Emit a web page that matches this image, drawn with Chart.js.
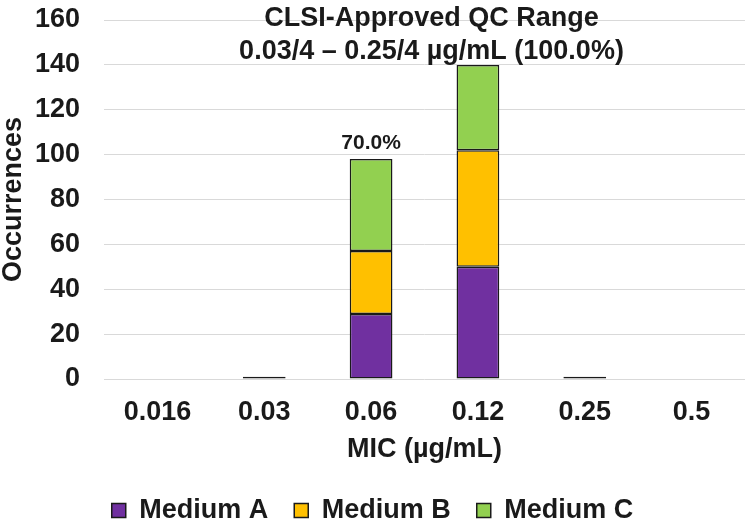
<!DOCTYPE html>
<html>
<head>
<meta charset="utf-8">
<script src="https://cdn.jsdelivr.net/npm/chart.js@4.4.1/dist/chart.umd.min.js"></script>
<style>
    html, body { margin: 0; padding: 0; background: #ffffff; }
    #wrap { width: 750px; height: 520px; }
</style>
</head>
<body>
<div id="wrap"><canvas id="micChart"></canvas></div>
<script>
// Data
const mics = ["0.016", "0.03", "0.06", "0.12", "0.25", "0.5"];
const mediumA = [0, 1, 29, 50, 1, 0];
const mediumB = [0, 0, 28, 52, 0, 0];
const mediumC = [0, 0, 41, 38, 0, 0];
const pctLabels = ["", "", "70.0%", "", "", ""];
const rangeTitle = ["CLSI-Approved QC Range", "0.03/4 \u2013 0.25/4 \u00b5g/mL (100.0%)"];

const FONT = "'Liberation Sans', Arial, sans-serif";
const TEXT = "#1a1a1a";

// Text drawn over the plot: QC range title and % label
const annotations = {
    id: "annotations",
    beforeInit(chart) {
        // keep the legend wide apart but not tall
        const fit = chart.legend.fit;
        chart.legend.fit = function () {
            fit.call(this);
            this.height = 49;
        };
    },
    afterDatasetsDraw(chart) {
        const ctx = chart.ctx;
        const x = chart.scales.x;
        const y = chart.scales.y;
        const area = chart.chartArea;
        ctx.save();
        ctx.fillStyle = TEXT;
        ctx.textAlign = "center";
        ctx.textBaseline = "middle";
        ctx.font = "bold 27px " + FONT;
        const cx = (area.left + area.right) / 2 + 7;
        ctx.fillText(rangeTitle[0], cx, y.getPixelForValue(160) - 1);
        ctx.fillText(rangeTitle[1], cx, y.getPixelForValue(146));
        ctx.font = "bold 21px " + FONT;
        pctLabels.forEach((lbl, i) => {
            if (!lbl) return;
            const total = mediumA[i] + mediumB[i] + mediumC[i];
            ctx.fillText(lbl, x.getPixelForValue(i), y.getPixelForValue(total) - 16);
        });
        ctx.restore();
    },
};

const barStyle = {
    borderColor: "#1a1a1a",
    borderWidth: 1.5,
    borderSkipped: false,
    barPercentage: 0.4,
    categoryPercentage: 1.0,
};

const ctx = document.getElementById("micChart").getContext("2d");
const micChart = new Chart(ctx, {
    type: "bar",
    data: {
        labels: mics,
        datasets: [
            { label: "Medium A", data: mediumA, backgroundColor: "#7030A0", ...barStyle },
            { label: "Medium B", data: mediumB, backgroundColor: "#FFC000", ...barStyle },
            { label: "Medium C", data: mediumC, backgroundColor: "#92D050", ...barStyle },
        ],
    },
    options: {
        responsive: true,
        maintainAspectRatio: false,
        animation: false,
        layout: {
            padding: { left: 0, right: 5, top: 20, bottom: 0 },
        },
        plugins: {
            legend: {
                position: "bottom",
                labels: {
                    color: TEXT,
                    font: { family: FONT, size: 27, weight: "bold" },
                    boxWidth: 14,
                    boxHeight: 14,
                    padding: 26,
                },
            },
            tooltip: { enabled: false },
        },
        scales: {
            x: {
                stacked: true,
                grid: { display: false, drawTicks: false },
                border: { display: false },
                ticks: {
                    color: TEXT,
                    font: { family: FONT, size: 27, weight: "bold" },
                    padding: 17,
                },
                title: {
                    display: true,
                    text: "MIC (\u00b5g/mL)",
                    color: TEXT,
                    font: { family: FONT, size: 27, weight: "bold" },
                    padding: { top: 0, bottom: 5 },
                },
                afterFit: (scale) => {
                    scale.height = 92;
                },
            },
            y: {
                stacked: true,
                min: 0,
                max: 160,
                grid: { color: "#d9d9d9", lineWidth: 1, drawTicks: false },
                border: { display: false },
                ticks: {
                    stepSize: 20,
                    color: TEXT,
                    font: { family: FONT, size: 27, weight: "bold" },
                    padding: 24,
                },
                title: {
                    display: true,
                    text: "Occurrences",
                    color: TEXT,
                    font: { family: FONT, size: 27, weight: "bold", lineHeight: 1.0 },
                    padding: 0,
                },
                afterFit: (scale) => {
                    scale.width = 104;
                    scale.paddingTop = 0;
                },
            },
        },
    },
    plugins: [annotations],
});
</script>
</body>
</html>
